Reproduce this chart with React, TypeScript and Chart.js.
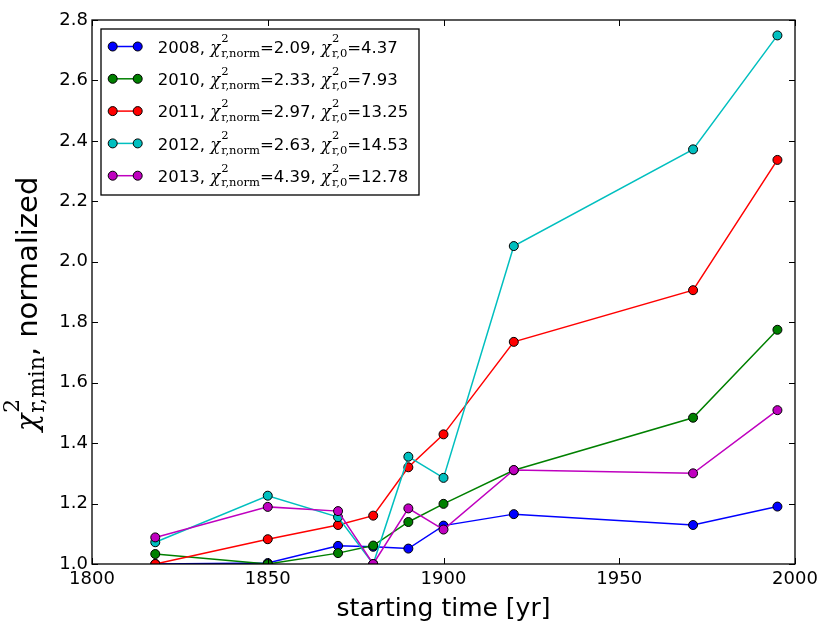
import { useEffect, useRef } from "react";
import { Chart, registerables, Plugin } from "chart.js";

Chart.register(...registerables);

// starting times of the fits
const years = [1818, 1850, 1870, 1880, 1890, 1900, 1920, 1971, 1995];

// normalized chi^2 per data year
const series2008 = [1.0, 1.003, 1.06, 1.057, 1.051, 1.127, 1.165, 1.129, 1.19];
const series2010 = [1.033, 1.0, 1.036, 1.061, 1.139, 1.199, 1.31, 1.484, 1.775];
const series2011 = [1.0, 1.082, 1.129, 1.16, 1.32, 1.429, 1.735, 1.906, 2.337];
const series2012 = [1.072, 1.226, 1.155, 1.0, 1.355, 1.285, 2.052, 2.372, 2.749];
const series2013 = [1.088, 1.189, 1.175, 1.0, 1.184, 1.114, 1.311, 1.3, 1.509];

const seriesYears = ["2008", "2010", "2011", "2012", "2013"];
const chiNorm = ["2.09", "2.33", "2.97", "2.63", "4.39"];
const chiZero = ["4.37", "7.93", "13.25", "14.53", "12.78"];
const colors = ["#0000ff", "#008000", "#ff0000", "#00bfbf", "#bf00bf"];

const xTicks = [1800, 1850, 1900, 1950, 2000];
const yTicks = [1.0, 1.2, 1.4, 1.6, 1.8, 2.0, 2.2, 2.4, 2.6, 2.8];

const SANS = '"DejaVu Sans"';
const SERIF = '"DejaVu Serif"';

// χ with superscript 2 and a subscript, returns the x after it
function drawChi(ctx: CanvasRenderingContext2D, x: number, y: number, size: number, sub: string, k = 0.7) {
  ctx.font = `italic ${size}px ${SERIF}`;
  ctx.fillText("χ", x, y);
  x += ctx.measureText("χ").width + 1;
  ctx.font = `${size * k}px ${SERIF}`;
  ctx.fillText("2", x, y - size * 0.62);
  ctx.fillText(sub, x, y + size * 0.25);
  return x + Math.max(ctx.measureText("2").width, ctx.measureText(sub).width);
}

function chiWidth(ctx: CanvasRenderingContext2D, size: number, sub: string, k = 0.7) {
  ctx.font = `italic ${size}px ${SERIF}`;
  const w = ctx.measureText("χ").width + 1;
  ctx.font = `${size * k}px ${SERIF}`;
  return w + Math.max(ctx.measureText("2").width, ctx.measureText(sub).width);
}

const framePlugin: Plugin = {
  id: "frame",
  afterDatasetsDraw(chart) {
    const { ctx, chartArea: a, scales } = chart;
    ctx.save();
    ctx.strokeStyle = "#000";
    ctx.lineWidth = 1;
    ctx.beginPath();
    xTicks.forEach((v) => {
      const px = Math.round(scales.x.getPixelForValue(v)) + 0.5;
      ctx.moveTo(px, a.bottom);
      ctx.lineTo(px, a.bottom - 6);
      ctx.moveTo(px, a.top);
      ctx.lineTo(px, a.top + 6);
    });
    yTicks.forEach((v) => {
      const py = Math.round(scales.y.getPixelForValue(v)) + 0.5;
      ctx.moveTo(a.left, py);
      ctx.lineTo(a.left + 6, py);
      ctx.moveTo(a.right, py);
      ctx.lineTo(a.right - 6, py);
    });
    ctx.stroke();
    ctx.lineWidth = 1.3;
    ctx.strokeRect(a.left, a.top, a.right - a.left, a.bottom - a.top);
    ctx.restore();
  },
  afterDraw(chart) {
    const { ctx, chartArea: a } = chart;
    ctx.save();
    ctx.fillStyle = "#000";
    ctx.textBaseline = "alphabetic";

    // x axis title
    ctx.font = `25px ${SANS}`;
    ctx.textAlign = "center";
    ctx.fillText("starting time [yr]", (a.left + a.right) / 2, 616);

    // y axis title, rotated
    ctx.textAlign = "left";
    const main = 29;
    const rest = ", normalized";
    const cw = chiWidth(ctx, main, "r,min", 0.75);
    ctx.font = `${main}px ${SANS}`;
    const total = cw + ctx.measureText(rest).width;
    ctx.translate(37, 304);
    ctx.rotate(-Math.PI / 2);
    let tx = -total / 2;
    tx = drawChi(ctx, tx, 0, main, "r,min", 0.75);
    ctx.font = `${main}px ${SANS}`;
    ctx.fillText(rest, tx, 0);
    ctx.setTransform(1, 0, 0, 1, 0, 0);
    ctx.restore();

    // legend
    ctx.save();
    const bx = 101, by = 29, bw = 318, bh = 166;
    ctx.fillStyle = "#fff";
    ctx.fillRect(bx, by, bw, bh);
    ctx.strokeStyle = "#000";
    ctx.lineWidth = 1.3;
    ctx.strokeRect(bx, by, bw, bh);
    const fs = 16.5;
    seriesYears.forEach((label, i) => {
      const cy = 46.5 + i * 32.3;
      ctx.strokeStyle = colors[i];
      ctx.lineWidth = 1.5;
      ctx.beginPath();
      ctx.moveTo(112.7, cy);
      ctx.lineTo(137.7, cy);
      ctx.stroke();
      [112.7, 137.7].forEach((mx) => {
        ctx.beginPath();
        ctx.arc(mx, cy, 4.5, 0, Math.PI * 2);
        ctx.fillStyle = colors[i];
        ctx.fill();
        ctx.strokeStyle = "#000";
        ctx.lineWidth = 1;
        ctx.stroke();
      });
      ctx.fillStyle = "#000";
      const base = cy + 6.2;
      let x = 157.7;
      ctx.font = `${fs}px ${SANS}`;
      ctx.fillText(label + ", ", x, base);
      x += ctx.measureText(label + ", ").width;
      x = drawChi(ctx, x, base, fs, "r,norm");
      ctx.font = `${fs}px ${SANS}`;
      const mid = "=" + chiNorm[i] + ", ";
      ctx.fillText(mid, x, base);
      x += ctx.measureText(mid).width;
      x = drawChi(ctx, x, base, fs, "r,0");
      ctx.font = `${fs}px ${SANS}`;
      ctx.fillText("=" + chiZero[i], x, base);
    });
    ctx.restore();
  },
};

export default function App() {
  const canvasRef = useRef<HTMLCanvasElement>(null);

  useEffect(() => {
    if (!canvasRef.current) return;
    const seriesValues = [series2008, series2010, series2011, series2012, series2013];

    const chart = new Chart(canvasRef.current, {
      type: "line",
      data: {
        datasets: seriesValues.map((vals, i) => ({
          label: seriesYears[i],
          data: years.map((x, j) => ({ x, y: vals[j] })),
          borderColor: colors[i],
          backgroundColor: colors[i],
          pointBackgroundColor: colors[i],
          pointBorderColor: "#000",
          pointBorderWidth: 1,
          pointRadius: 4.5,
          borderWidth: 1.5,
          tension: 0,
          clip: 0,
          order: seriesValues.length - i,
        })),
      },
      options: {
        animation: false,
        responsive: true,
        maintainAspectRatio: false,
        events: [],
        layout: { padding: { left: 0, right: 35, top: 20, bottom: 0 } },
        plugins: { legend: { display: false }, tooltip: { enabled: false } },
        scales: {
          x: {
            type: "linear",
            min: 1800,
            max: 2000,
            grid: { display: false, drawTicks: false },
            border: { display: false },
            ticks: {
              color: "#000",
              font: { family: "DejaVu Sans", size: 18 },
              padding: 5,
              maxRotation: 0,
              callback: (v) => String(v),
            },
            afterBuildTicks: (s) => {
              s.ticks = xTicks.map((value) => ({ value }));
            },
            afterFit: (s) => {
              s.height = 69;
            },
          },
          y: {
            type: "linear",
            min: 1.0,
            max: 2.8,
            grid: { display: false, drawTicks: false },
            border: { display: false },
            ticks: {
              color: "#000",
              font: { family: "DejaVu Sans", size: 18 },
              padding: 4,
              callback: (v) => Number(v).toFixed(1),
            },
            afterBuildTicks: (s) => {
              s.ticks = yTicks.map((value) => ({ value }));
            },
            afterFit: (s) => {
              s.width = 92;
            },
          },
        },
      },
      plugins: [framePlugin],
    });

    return () => {
      chart.destroy();
    };
  }, []);

  return (
    <div style={{ position: "fixed", left: 0, top: 0, width: 830, height: 633, background: "#fff" }}>
      <canvas ref={canvasRef} />
    </div>
  );
}
